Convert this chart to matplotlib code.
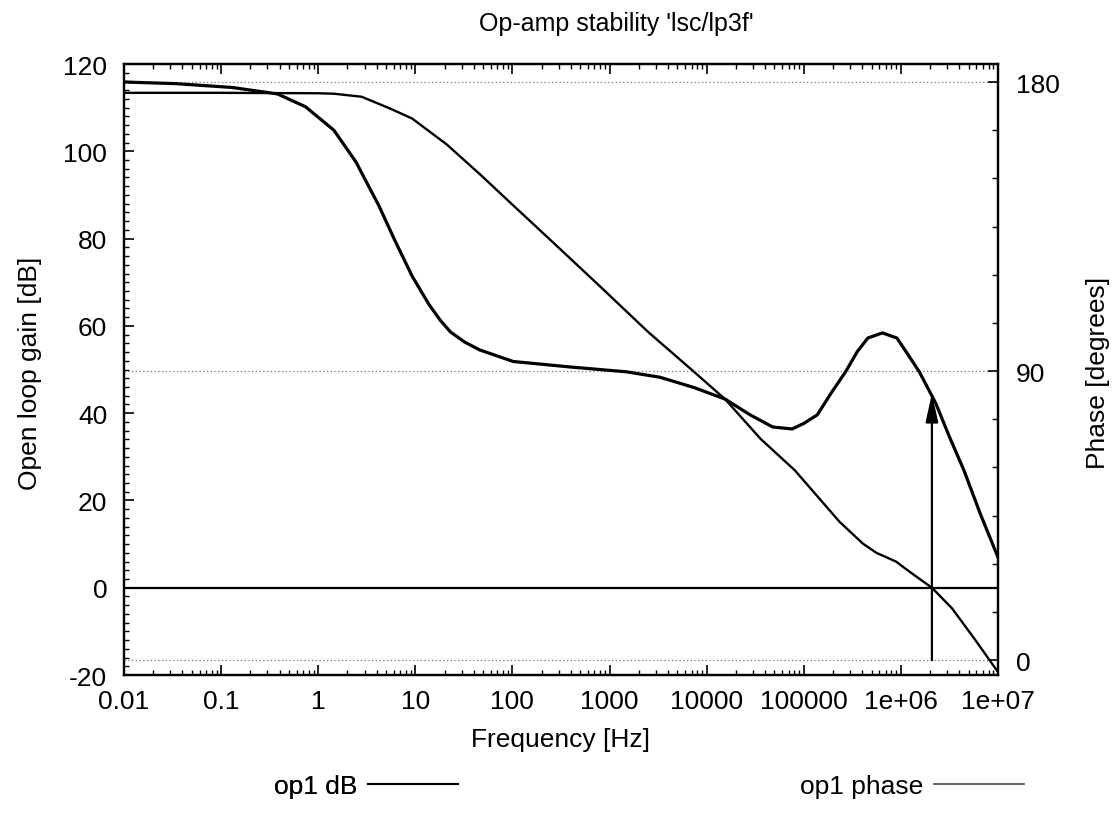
import matplotlib
matplotlib.use("Agg")
import matplotlib.pyplot as plt
from matplotlib.lines import Line2D
from matplotlib.ticker import FixedLocator, FixedFormatter, LogLocator, NullFormatter, MultipleLocator

plt.rcParams['font.family'] = ['Liberation Sans', 'DejaVu Sans']
plt.rcParams['font.size'] = 19
plt.rcParams['axes.unicode_minus'] = False

# open loop gain [dB] vs frequency [Hz]
gain_freq = [0.01, 0.1, 1, 1.45, 2.8, 5.5, 9.3, 21, 46, 102, 230, 760, 2500, 7400,
             15500, 36000, 81000, 234000, 407000, 560000, 891000, 1260000, 2090000,
             3390000, 5900000, 1e7]
gain_db = [113.4, 113.4, 113.3, 113.2, 112.5, 109.8, 107.5, 101.6, 94.8, 87.6, 80.3,
           69.5, 58.6, 49.5, 43.2, 34.1, 26.9, 15.1, 10.1, 8.0, 6.0, 3.5, 0.0,
           -4.8, -12.1, -19.3]

# phase [degrees] vs frequency [Hz]
phase_freq = [0.01, 0.034, 0.13, 0.38, 0.74, 1.45, 2.45, 3.2, 4.2, 6.2, 9.3, 13.8, 18,
              23, 32, 46, 102, 390, 1480, 3300, 7400, 15500, 28000, 48000, 76000,
              100000, 138000, 190000, 270000, 355000, 457000, 646000, 912000, 1170000,
              1550000, 2290000, 3160000, 4470000, 6600000, 1e7]
phase_deg = [180.0, 179.5, 178.3, 176.3, 172.3, 165.0, 155.1, 148.4, 141.6, 130.5,
             119.5, 110.8, 105.9, 102.2, 99.1, 96.6, 93.0, 91.3, 89.8, 88.1, 84.9,
             81.3, 76.4, 72.6, 72.0, 73.7, 76.4, 83.0, 89.8, 96.0, 100.3, 101.9, 100.3,
             95.4, 89.8, 80.0, 69.6, 59.1, 45.5, 32.1]

crossover_freq = 2.09e6
phase_margin = 83

freq_ticks = [0.01, 0.1, 1, 10, 100, 1000, 10000, 100000, 1e6, 1e7]
freq_labels = ['0.01', '0.1', '1', '10', '100', '1000', '10000', '100000', '1e+06', '1e+07']
gain_ticks = [-20, 0, 20, 40, 60, 80, 100, 120]
phase_ticks = [0, 90, 180]

fig = plt.figure(figsize=(11.15, 8.2), dpi=100)
ax = fig.add_axes([0.1112, 0.1756, 0.7838, 0.7451])
ax2 = ax.twinx()

ax.set_xscale('log')
ax.set_xlim(0.01, 1e7)
ax.set_ylim(-20, 120)
ax2.set_ylim(-4.6, 185.6)

# dotted grid on the phase axis, zero line on the gain axis
for p in phase_ticks:
    ax2.axhline(p, color='#777777', lw=0.9, ls=(0, (1, 2)), zorder=1)
ax.axhline(0, color='black', lw=1.6, zorder=2)

ax.plot(gain_freq, gain_db, color='black', lw=1.7, zorder=3)
ax2.plot(phase_freq, phase_deg, color='black', lw=2.3, zorder=3)

ax2.annotate('', xy=(crossover_freq, phase_margin), xytext=(crossover_freq, 0),
             arrowprops=dict(arrowstyle='-|>,head_length=0.9,head_width=0.2',
                             color='black', lw=1.6, shrinkA=0, shrinkB=0))

ax.xaxis.set_major_locator(FixedLocator(freq_ticks))
ax.xaxis.set_major_formatter(FixedFormatter(freq_labels))
ax.xaxis.set_minor_locator(LogLocator(base=10, subs=range(2, 10), numticks=20))
ax.xaxis.set_minor_formatter(NullFormatter())
ax.set_yticks(gain_ticks)
ax.yaxis.set_minor_locator(MultipleLocator(2))
ax2.set_yticks(phase_ticks)
ax2.yaxis.set_minor_locator(MultipleLocator(15))

ax.tick_params(axis='x', which='both', direction='in', top=True, bottom=True, pad=10)
ax.tick_params(axis='y', which='both', direction='in', left=True, right=False, pad=12)
ax.tick_params(which='major', length=7, width=1.2)
ax.tick_params(which='minor', length=3.5, width=1.0)
ax2.tick_params(axis='y', which='both', direction='in', pad=13)
ax2.tick_params(which='major', length=7, width=1.2)
ax2.tick_params(which='minor', length=4, width=1.0)

for a in (ax, ax2):
    for s in a.spines.values():
        s.set_linewidth(1.6)

fig.text(0.553, 0.971, "Op-amp stability 'lsc/lp3f'", ha='center', va='center', fontsize=18)
ax.set_xlabel('Frequency [Hz]', labelpad=10)
fig.text(0.027, 0.545, 'Open loop gain [dB]', rotation=90, ha='center', va='center')
fig.text(0.985, 0.545, 'Phase [degrees]', rotation=90, ha='center', va='center')

# key below the plot
h1 = Line2D([], [], color='black', lw=1.5)
h2 = Line2D([], [], color='#444444', lw=1.2)
leg1 = fig.legend([h1], ['op1 dB'], loc='center right', bbox_to_anchor=(471 / 1115, 1 - 787 / 820),
                  frameon=False, markerfirst=False, handlelength=3.4, handletextpad=0.4, borderpad=0)
leg2 = fig.legend([h2], ['op1 phase'], loc='center right', bbox_to_anchor=(1037 / 1115, 1 - 787 / 820),
                  frameon=False, markerfirst=False, handlelength=3.4, handletextpad=0.4, borderpad=0)
fig.add_artist(leg1)

fig.savefig('out.png', dpi=100)
